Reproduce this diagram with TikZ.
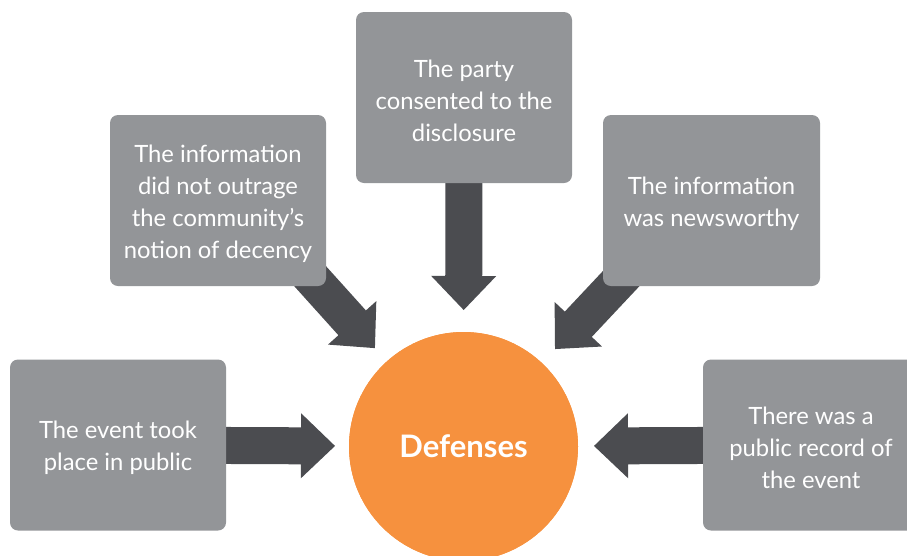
\documentclass[tikz,border=0pt]{standalone}
\usepackage{fontspec}
\setmainfont{Lato}
\usetikzlibrary{calc}
\definecolor{boxgrey}{RGB}{147,149,152}
\definecolor{arrowgrey}{RGB}{75,76,80}
\definecolor{defor}{RGB}{246,145,62}
\newcommand\blockarrow[3]{%
  \coordinate (T) at ($(#2.center)!#3!(#1)$);
  \coordinate (H) at ($(T)!34pt!(#1)$);
  \fill[arrowgrey]
    ($(#1)!18.5pt!90:(T)$) -- ($(H)!18.5pt!90:(T)$) -- ($(H)!32.5pt!90:(T)$)
    -- (T) -- ($(H)!32.5pt!-90:(T)$) -- ($(H)!18.5pt!-90:(T)$)
    -- ($(#1)!18.5pt!-90:(T)$) -- cycle;
}
\begin{document}
\begin{tikzpicture}[x=1pt,y=-1pt,
  defbox/.style={fill=boxgrey, rounded corners=8pt, minimum width=216pt,
    minimum height=171pt, inner sep=0pt, text=white, align=center,
    font=\fontsize{23.8}{32}\selectfont},
  boxtext/.style={text=white, align=center, inner sep=0pt,
    font=\fontsize{23.8}{32}\selectfont},
  hub/.style={circle, fill=defor, minimum size=229pt, inner sep=0pt,
    text=white, font=\fontsize{31}{34}\selectfont\bfseries}]
\useasboundingbox (0,0) rectangle (907,555);
\clip (0,0) rectangle (907,555);
\path (463.5,446.5) coordinate (hubc);
\path (464,97.5) coordinate (topc);
\path (218,200.5) coordinate (ulc);
\path (711.5,200.5) coordinate (urc);
\path (118,445) coordinate (llc);
\path (811,445) coordinate (lrc);
\node[hub] (def) at (hubc) {};
\coordinate (sul) at ($(ulc)+(24,0)$);
\coordinate (sur) at ($(urc)+(-17,0)$);
% arrows
\blockarrow{topc}{def}{136.5pt}
\blockarrow{sul}{def}{132.4pt}
\blockarrow{sur}{def}{133.7pt}
\blockarrow{llc}{def}{128.5pt}
\blockarrow{lrc}{def}{130.5pt}
% boxes
\node[defbox] (top) at (topc) {};
\node[defbox] (ul) at (ulc) {};
\node[defbox, minimum width=217pt] (ur) at (urc) {};
\node[defbox] (ll) at (llc) {};
\node[defbox] (lr) at (lrc) {};
\node[boxtext] at ($(top.center)+(0,3)$) {The party\\consented to the\\disclosure};
\node[boxtext] at ($(ul.center)+(0,3)$) {The information\\did not outrage\\the community’s\\notion of decency};
\node[boxtext] at ($(ur.center)+(0,3)$) {The information\\was newsworthy};
\node[boxtext] at ($(ll.center)+(0,3)$) {The event took\\place in public};
\node[boxtext] at ($(lr.center)+(0,3)$) {There was a\\public record of\\the event};
\node[hub] at (hubc) {Defenses};
\end{tikzpicture}
\end{document}
